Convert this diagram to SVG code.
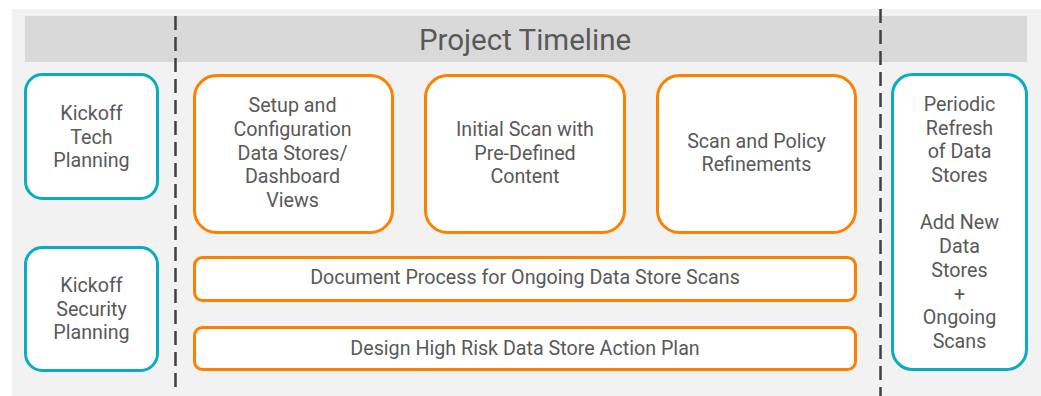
<svg xmlns="http://www.w3.org/2000/svg" width="1041" height="396" viewBox="0 0 1041 396">
<style>
.t{font-family:Roboto,"Liberation Sans",sans-serif;font-size:19.7px;fill:#595959;text-anchor:middle}
.teal{fill:#fff;stroke:#0AACBF;stroke-width:3}
.orange{fill:#fff;stroke:#FF8000;stroke-width:3}
.dash{stroke:#404040;stroke-width:2.5;stroke-dasharray:14 7;fill:none}
</style>
<rect x="12" y="9" width="1029" height="387" fill="#F2F2F2"/>
<rect x="25" y="16" width="1002" height="46" fill="#D9D9D9"/>
<text x="525" y="50" class="t" style="font-size:29.5px">Project Timeline</text>
<g id="connectors">
<line class="dash" x1="175.5" y1="16" x2="175.5" y2="389"/>
<line class="dash" x1="880.5" y1="9" x2="880.5" y2="396"/>
</g>
<g id="kickoff-tech">
<rect class="teal" x="25.5" y="74.5" width="132" height="124" rx="17"/>
<text class="t" x="91.5" y="120">Kickoff</text>
<text class="t" x="91.5" y="143.5">Tech</text>
<text class="t" x="91.5" y="167">Planning</text>
</g>
<g id="kickoff-security">
<rect class="teal" x="25.5" y="247.5" width="132" height="123" rx="17"/>
<text class="t" x="91.5" y="292">Kickoff</text>
<text class="t" x="91.5" y="315.5">Security</text>
<text class="t" x="91.5" y="339">Planning</text>
</g>
<g id="setup">
<rect class="orange" x="194.5" y="75.5" width="198" height="157" rx="22"/>
<text class="t" x="292.5" y="112">Setup and</text>
<text class="t" x="292.5" y="136">Configuration</text>
<text class="t" x="292.5" y="159.5">Data Stores/</text>
<text class="t" x="292.5" y="183">Dashboard</text>
<text class="t" x="292.5" y="207">Views</text>
</g>
<g id="initial-scan">
<rect class="orange" x="425.5" y="75.5" width="199" height="157" rx="22"/>
<text class="t" x="525" y="136">Initial Scan with</text>
<text class="t" x="525" y="159.5">Pre-Defined</text>
<text class="t" x="525" y="183">Content</text>
</g>
<g id="scan-policy">
<rect class="orange" x="657.5" y="75.5" width="198" height="157" rx="22"/>
<text class="t" x="756.5" y="148">Scan and Policy</text>
<text class="t" x="756.5" y="171">Refinements</text>
</g>
<g id="document-process">
<rect class="orange" x="194.5" y="257.5" width="661" height="43" rx="8"/>
<text class="t" x="525" y="284">Document Process for Ongoing Data Store Scans</text>
</g>
<g id="design-plan">
<rect class="orange" x="194.5" y="327.5" width="661" height="42" rx="8"/>
<text class="t" x="525" y="355">Design High Risk Data Store Action Plan</text>
</g>
<g id="periodic">
<rect class="teal" x="892.5" y="74.5" width="134" height="295" rx="20"/>
<text class="t" x="959.5" y="111">Periodic</text>
<text class="t" x="959.5" y="134.5">Refresh</text>
<text class="t" x="959.5" y="158">of Data</text>
<text class="t" x="959.5" y="182">Stores</text>
<text class="t" x="959.5" y="229">Add New</text>
<text class="t" x="959.5" y="253">Data</text>
<text class="t" x="959.5" y="276.5">Stores</text>
<text class="t" x="959.5" y="300.5">+</text>
<text class="t" x="959.5" y="324">Ongoing</text>
<text class="t" x="959.5" y="348">Scans</text>
</g>
</svg>
